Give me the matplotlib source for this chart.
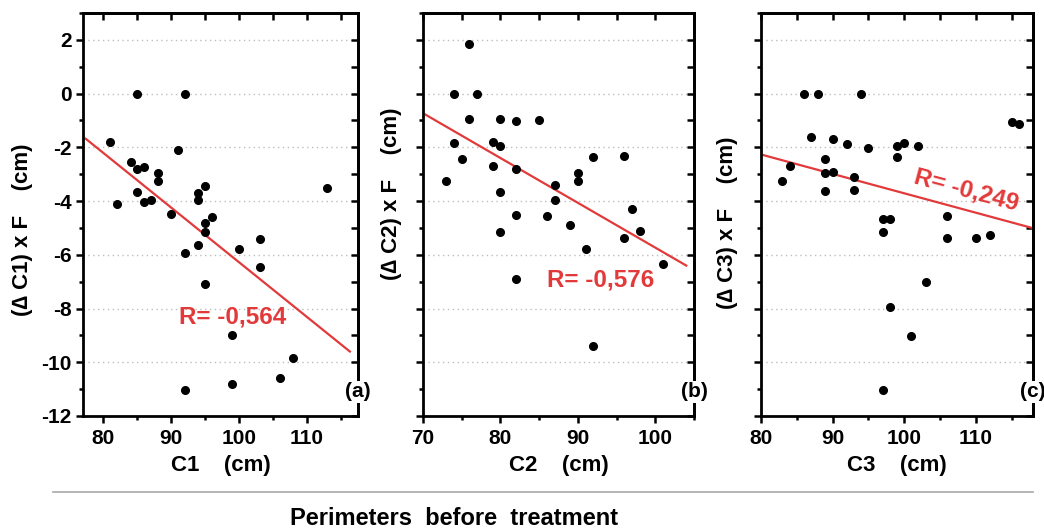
"""Three-panel scatter: perimeter change x F vs perimeter before treatment."""
import numpy as np
import matplotlib
matplotlib.use("Agg")
import matplotlib.pyplot as plt
from matplotlib.lines import Line2D
from matplotlib.ticker import MultipleLocator

plt.rcParams["font.family"] = ["Liberation Sans", "DejaVu Sans"]
plt.rcParams["font.weight"] = "bold"
plt.rcParams["axes.labelweight"] = "bold"
plt.rcParams["axes.unicode_minus"] = False

# panel (a): C1
c1 = [85, 92, 81, 91, 84, 85, 86, 88, 88, 85, 82, 86, 87, 113, 95, 94, 94, 90, 96, 95,
      95, 94, 103, 100, 92, 103, 95, 99, 108, 92, 99, 106]
dc1 = [0, 0, -1.8, -2.1, -2.55, -2.8, -2.75, -2.95, -3.25, -3.65, -4.1, -4.05, -3.95, -3.5,
       -3.45, -3.7, -3.95, -4.5, -4.6, -4.8, -5.15, -5.65, -5.4, -5.8, -5.95, -6.45, -7.1,
       -9.0, -9.85, -11.05, -10.8, -10.6]
# panel (b): C2
c2 = [76, 74, 77, 76, 80, 82, 85, 74, 79, 80, 75, 79, 82, 73, 80, 87, 87, 82, 86, 80,
      89, 90, 90, 92, 96, 97, 96, 98, 91, 101, 82, 92]
dc2 = [1.85, 0, 0, -0.93, -0.96, -1.02, -1.0, -1.83, -1.79, -1.95, -2.44, -2.69, -2.79,
       -3.25, -3.65, -3.41, -3.95, -4.52, -4.57, -5.14, -4.88, -2.94, -3.25, -2.37, -2.32,
       -4.3, -5.37, -5.1, -5.8, -6.33, -6.91, -9.4]
# panel (c): C3
c3 = [86, 88, 94, 87, 90, 92, 95, 99, 100, 102, 99, 89, 84, 83, 89, 90, 93, 89, 93, 115,
      116, 97, 98, 97, 106, 106, 110, 112, 103, 98, 101, 97]
dc3 = [0, 0, 0, -1.62, -1.68, -1.86, -2.01, -1.95, -1.83, -1.95, -2.36, -2.42, -2.69, -3.25,
       -2.94, -2.91, -3.1, -3.62, -3.59, -1.06, -1.15, -4.67, -4.67, -5.16, -4.57, -5.37,
       -5.37, -5.26, -7.01, -7.96, -9.01, -11.03]

# fitted lines as drawn (end points)
fit_x = [[77.4, 116.3], [70.3, 104.0], [80.2, 118.0]]
fit_y = [[-1.68, -9.6], [-0.78, -6.4], [-2.28, -5.01]]
r_text = ["R= -0,564", "R= -0,576", "R= -0,249"]
tags = ["(a)", "(b)", "(c)"]
xnames = ["C1", "C2", "C3"]
x_ticks = [[80, 90, 100, 110], [70, 80, 90, 100], [80, 90, 100, 110]]
y_ticks = [2, 0, -2, -4, -6, -8, -10, -12]

RED = "#e23a3a"
FS = 15

fig = plt.figure(figsize=(10.44, 5.29), dpi=100)
W, H = 1044, 529
boxes = [(83, 358), (423, 694), (761, 1033)]
top, bot = 13, 416
xlims = [(77, 117.5), (70, 105), (80, 118)]
r_pos = [(99.0, -8.3, 0), (92.9, -6.95, 0), (108.7, -3.6, -15)]
ylab_pos = [(23, 230), (392, 194), (727, 223)]

data = [(c1, dc1), (c2, dc2), (c3, dc3)]
for i, ((xs, ys), (l, r)) in enumerate(zip(data, boxes)):
    ax = fig.add_axes([l / W, 1 - bot / H, (r - l) / W, (bot - top) / H])
    ax.set_xticks(x_ticks[i], [str(v) for v in x_ticks[i]], fontweight="bold", fontsize=FS)
    ax.set_yticks(y_ticks, [str(v) for v in y_ticks], fontweight="bold", fontsize=FS)
    ax.xaxis.set_minor_locator(MultipleLocator(5))
    ax.yaxis.set_minor_locator(MultipleLocator(1))
    ax.set_xlim(*xlims[i]); ax.set_ylim(-12, 3)
    ax.tick_params(which="both", direction="out", width=1.8, pad=3)
    ax.tick_params(which="major", length=5)
    ax.tick_params(which="minor", length=3)
    ax.tick_params(axis="x", pad=4)
    if i > 0:
        ax.tick_params(axis="y", labelleft=False)
    for s in ax.spines.values():
        s.set_linewidth(2)
    for y in range(-10, 3, 2):
        ax.axhline(y, color="#bdbdbd", lw=1, ls=(0, (1, 2.5)), zorder=0)

    # inward ticks on top and right
    sx = ax.secondary_xaxis("top")
    sx.xaxis.set_major_locator(MultipleLocator(10)); sx.xaxis.set_minor_locator(MultipleLocator(5))
    sx.tick_params(axis="x", which="both", direction="in", labeltop=False, width=1.8, length=5)
    sy = ax.secondary_yaxis("right")
    sy.yaxis.set_major_locator(MultipleLocator(2)); sy.yaxis.set_minor_locator(MultipleLocator(1))
    sy.tick_params(axis="y", which="both", direction="in", labelright=False, width=1.8, length=5)
    for sec in (sx, sy):
        for s in sec.spines.values():
            s.set_linewidth(2)

    ax.plot(xs, ys, "o", color="black", ms=5.5, zorder=3)
    ax.plot(fit_x[i], fit_y[i], color=RED, lw=1.6, zorder=2)
    rx, ry, rot = r_pos[i]
    ax.text(rx, ry, r_text[i], color=RED, fontsize=17.5, ha="center", va="center",
            rotation=rot, rotation_mode="anchor")
    ax.text(1.0, 0.06, tags[i], transform=ax.transAxes, fontsize=FS, ha="center", va="center",
            clip_on=False, zorder=10,
            bbox=dict(facecolor="white", edgecolor="none", pad=1))

    xl = ax.set_xlabel(f"{xnames[i]}    (cm)", fontsize=16)
    ax.xaxis.set_label_coords(((l + r) / 2 - l) / (r - l), (bot - 465) / (bot - top))
    xl.set_va("center")
    yl = ax.set_ylabel(f"(\u2206 {xnames[i]}) x F    (cm)", fontsize=16)
    px, py = ylab_pos[i]
    ax.yaxis.set_label_coords((px - l) / (r - l), (bot - py) / (bot - top))
    yl.set_va("center")

fig.add_artist(Line2D([53 / W, 1033 / W], [1 - 492 / H] * 2, transform=fig.transFigure,
                      color="#a8a8a8", lw=1.2))
fig.text(454 / W, 0.008, "Perimeters  before  treatment", fontsize=17, ha="center", va="baseline")

fig.savefig("out.png", dpi=100)
